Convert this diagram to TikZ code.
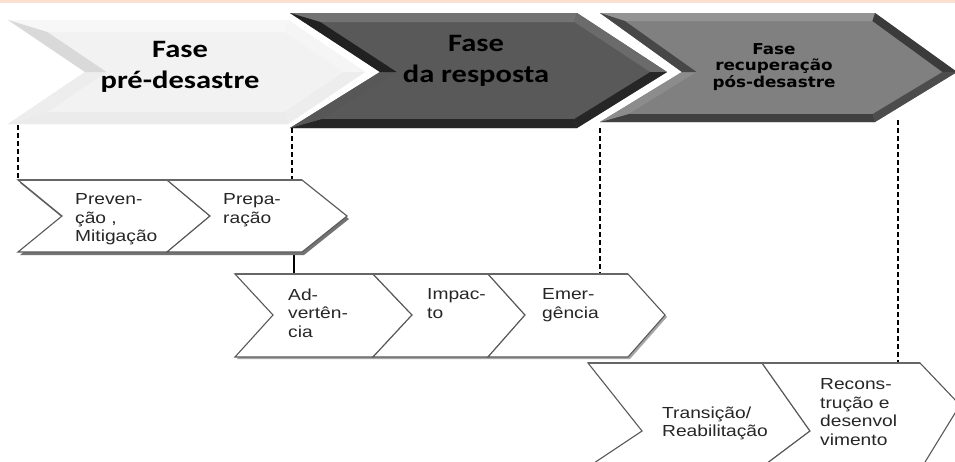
\documentclass[tikz,border=0pt]{standalone}
\usepackage{fontspec}
\newfontfamily\titlefont[FakeStretch=1.22]{Carlito}
\newfontfamily\phasefont[FakeStretch=1.12]{DejaVu Sans}
\newfontfamily\labelfont[FakeStretch=1.2]{Liberation Sans}
\definecolor{band}{RGB}{250,224,208}
\newcommand{\bevchev}[8]{%
  \pgfmathsetmacro\bvhu{#4-#3}%
  \pgfmathsetmacro\bvhl{#5-#4}%
  \pgfmathsetmacro\bvsu{#7*sqrt(#6*#6+\bvhu*\bvhu)/\bvhu}%
  \pgfmathsetmacro\bvsl{#7*sqrt(#6*#6+\bvhl*\bvhl)/\bvhl}%
  \coordinate (o1) at (#1,#3);
  \coordinate (o2) at ({#1+#6},#4);
  \coordinate (o3) at (#1,#5);
  \coordinate (o4) at (#2,#5);
  \coordinate (o5) at ({#2+#6},#4);
  \coordinate (o6) at (#2,#3);
  \coordinate (i1) at ({#1+#6*#7/\bvhu+\bvsu},{#3+#7});
  \coordinate (i2) at ({#1+#6+(\bvsu+\bvsl)/2},#4);
  \coordinate (i3) at ({#1+#6*#7/\bvhl+\bvsl},{#5-#7});
  \coordinate (i4) at ({#2+#6*#7/\bvhl-\bvsl},{#5-#7});
  \coordinate (i5) at ({#2+#6-(\bvsu+\bvsl)/2},#4);
  \coordinate (i6) at ({#2+#6*#7/\bvhu-\bvsu},{#3+#7});
  \fill[#8] (o1)--(o2)--(o3)--(o4)--(o5)--(o6)--cycle;
  \fill[bvTop] (o1)--(o6)--(i6)--(i1)--cycle;
  \fill[bvUR] (o6)--(o5)--(i5)--(i6)--cycle;
  \fill[bvLR] (o5)--(o4)--(i4)--(i5)--cycle;
  \fill[bvBot] (o4)--(o3)--(i3)--(i4)--cycle;
  \fill[bvLL] (o3)--(o2)--(i2)--(i3)--cycle;
  \fill[bvUL] (o2)--(o1)--(i1)--(i2)--cycle;
}
\tikzset{
  lbl/.style={font=\labelfont\fontsize{16}{18.5}\selectfont, align=left, anchor=north west, inner sep=0pt, text=black!85},
  ttl/.style={font=\titlefont\bfseries\fontsize{25}{31}\selectfont, align=center, anchor=north, inner sep=0pt, text=black},
  ttlsmall/.style={font=\phasefont\bfseries\fontsize{15}{16.5}\selectfont, align=center, anchor=north, inner sep=0pt, text=black},
  chev/.style={fill=white, draw=black!65, line width=1.1pt, line join=miter},
  topedge/.style={draw=black!60, line width=2pt},
  shade/.style={fill=black!55},
  guide/.style={draw=black, line width=1.1pt, dash pattern=on 5pt off 3pt},
  tick/.style={draw=black, line width=1.1pt}
}
\begin{document}
\begin{tikzpicture}[x=1pt,y=-1pt]
\useasboundingbox (0,0) rectangle (955,461);
\clip (0,0) rectangle (955,461);
\fill[white] (0,0) rectangle (955,461);
\fill[band] (0,0) rectangle (955,3);

% big chevron 1
\colorlet{bvTop}{black!3}\colorlet{bvUR}{black!4}\colorlet{bvLR}{black!7}
\colorlet{bvBot}{black!8}\colorlet{bvLL}{black!7}\colorlet{bvUL}{black!15}
\bevchev{8}{288}{20}{72}{124}{77}{12}{black!5}
% big chevron 2
\colorlet{bvTop}{black!55}\colorlet{bvUR}{black!58}\colorlet{bvLR}{black!85}
\colorlet{bvBot}{black!85}\colorlet{bvLL}{black!66}\colorlet{bvUL}{black!87}
\bevchev{290}{577}{13}{72}{128}{90}{9}{black!65}
% big chevron 3
\colorlet{bvTop}{black!42}\colorlet{bvUR}{black!77}\colorlet{bvLR}{black!70}
\colorlet{bvBot}{black!75}\colorlet{bvLL}{black!45}\colorlet{bvUL}{black!72}
\bevchev{600}{875}{13}{72}{122}{82}{8}{black!50}

% titles
\node[ttl] (t1) at (180,41) {Fase\\pré-desastre};
\node[ttl] (t2) at (476,35) {Fase\\da resposta};
\node[ttlsmall] (t3) at (774,43) {Fase\\recuperação\\pós-desastre};

% coordinates for guides
\coordinate (g1a) at (18,125);  \coordinate (g1b) at (18,180);
\coordinate (g2a) at (292,128); \coordinate (g2b) at (292,180);
\coordinate (g3a) at (294,252); \coordinate (g3b) at (294,274);
\coordinate (g4a) at (600,128); \coordinate (g4b) at (600,274);
\coordinate (g5a) at (898,120); \coordinate (g5b) at (898,363);
\draw[guide] (g1a) -- (g1b);
\draw[guide] (g2a) -- (g2b);
\draw[tick] (g3a) -- (g3b);
\draw[guide] (g4a) -- (g4b);
\draw[guide] (g5a) -- (g5b);

% row 1
\fill[shade] (20,183) -- (64,219) -- (20,255) -- (304,255) -- (349,219) -- (304,183) -- cycle;
\draw[chev] (18,180) -- (62,216) -- (18,252) -- (167,252) -- (210,216) -- (167,180) -- cycle;
\draw[chev] (167,180) -- (210,216) -- (167,252) -- (302,252) -- (347,216) -- (302,180) -- cycle;
\draw[topedge] (18,180) -- (302,180);
% row 2
\fill[black!35] (237,276) -- (275,317) -- (237,359) -- (630,359) -- (667,317) -- (630,276) -- cycle;
\draw[chev] (235,274) -- (273,315) -- (235,357) -- (373,357) -- (412,315) -- (373,274) -- cycle;
\draw[chev] (373,274) -- (412,315) -- (373,357) -- (488,357) -- (525,315) -- (488,274) -- cycle;
\draw[chev] (488,274) -- (525,315) -- (488,357) -- (628,357) -- (665,315) -- (628,274) -- cycle;
\draw[topedge] (235,274) -- (628,274);
% row 3
\draw[chev] (588,363) -- (642,431) -- (588,467) -- (762,467) -- (810,431) -- (762,363) -- cycle;
\draw[chev] (762,363) -- (810,431) -- (762,467) -- (922,467) -- (960,405) -- (920,363) -- cycle;
\draw[topedge] (588,363) -- (920,363);

% labels
\node[lbl] (l1) at (75,193.5) {Preven-\\ção ,\\Mitigação};
\node[lbl] (l2) at (223,193.5) {Prepa-\\ração};
\node[lbl] (l3) at (288,288.5) {Ad-\\vertên-\\cia};
\node[lbl] (l4) at (427,288.5) {Impac-\\to};
\node[lbl] (l5) at (542,288.5) {Emer-\\gência};
\node[lbl] (l6) at (662,406.5) {Transição/\\Reabilitação};
\node[lbl] (l7) at (820,378.5) {Recons-\\trução e\\desenvol\\vimento};
\end{tikzpicture}
\end{document}
